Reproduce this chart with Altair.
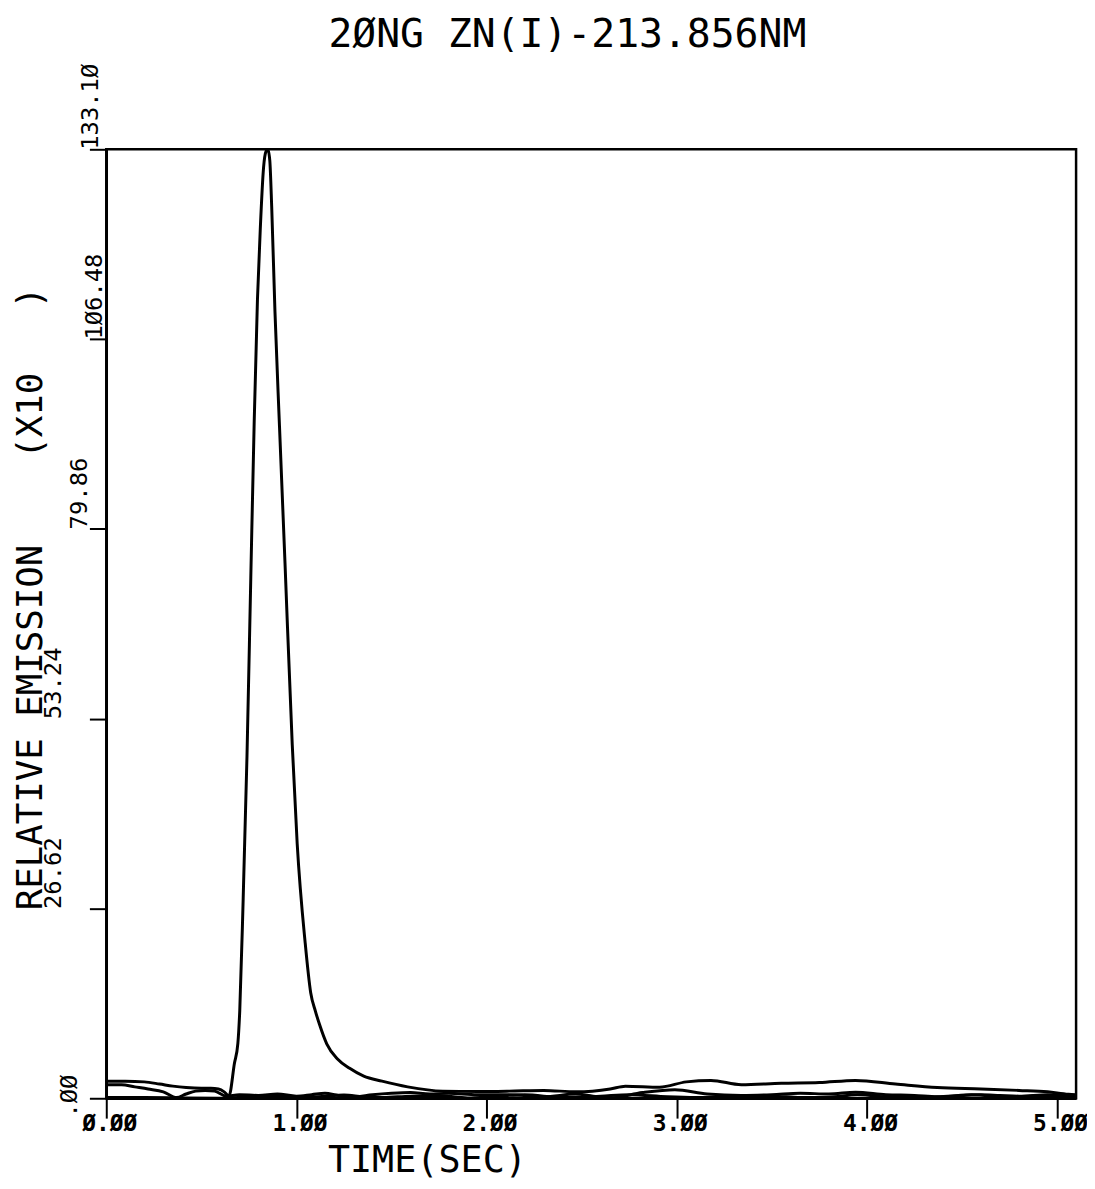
import altair as alt
import pandas as pd

NB = "\u00a0"
TITLE = "2ØNG ZN(I)-213.856NM"
X_TITLE = "TIME(SEC)"
Y_TITLE = "RELATIVE EMISSION" + NB * 4 + "(X10" + NB * 3 + ")"

x_ticks = [0, 1, 2, 3, 4, 5]
y_ticks = [0.0, 26.62, 53.24, 79.86, 106.48, 133.10]

sample_t = [0.00, 0.10, 0.20, 0.28, 0.35, 0.42, 0.50, 0.55, 0.59, 0.62,
            0.645, 0.674, 0.692, 0.702, 0.72, 0.74, 0.76, 0.778, 0.795, 0.81,
            0.827, 0.84, 0.85, 0.86, 0.87, 0.887, 0.911, 0.94, 0.978, 1.004,
            1.046, 1.075, 1.10, 1.122, 1.16, 1.216, 1.28, 1.354, 1.45, 1.585,
            1.77, 1.95, 2.12, 2.30, 2.47, 2.65, 2.73, 2.91, 3.05, 3.18,
            3.34, 3.55, 3.75, 3.94, 4.15, 4.37, 4.60, 4.80, 4.95, 5.06, 5.10]
sample_v = [2.4, 2.4, 2.3, 2.0, 1.7, 1.5, 1.4, 1.4, 1.3, 0.9,
            0.3, 4.9, 7.7, 12.3, 28, 48, 73, 95, 112, 122,
            130.5, 132.8, 133.1, 131.5, 125, 110.4, 94.2, 75, 49.6, 35.7,
            21.8, 14.8, 12.2, 10.3, 7.6, 5.5, 4.2, 3.1, 2.4, 1.6,
            1.0, 0.95, 1.0, 1.1, 0.9, 1.3, 1.7, 1.55, 2.3, 2.5,
            1.9, 2.1, 2.2, 2.5, 2.0, 1.5, 1.3, 1.1, 0.9, 0.55, 0.5]

blank1_t = [0.00, 0.08, 0.15, 0.22, 0.30, 0.37, 0.42, 0.47, 0.52, 0.57,
            0.63, 0.70, 0.80, 0.90, 1.00, 1.08, 1.15, 1.22, 1.30, 1.40,
            1.50, 1.60, 1.70, 1.80, 1.95, 2.12, 2.30, 2.47, 2.56, 2.65,
            2.82, 2.99, 3.16, 3.34, 3.50, 3.65, 3.80, 3.94, 4.10, 4.25,
            4.37, 4.50, 4.60, 4.70, 4.80, 4.95, 5.10]
blank1_v = [1.9, 1.9, 1.6, 1.3, 0.9, 0.1, 0.6, 1.0, 1.1, 1.0,
            0.3, 0.5, 0.4, 0.6, 0.3, 0.5, 0.7, 0.4, 0.2, 0.5,
            0.7, 0.8, 0.6, 0.7, 0.5, 0.5, 0.2, 0.6, 0.3, 0.05,
            0.8, 1.2, 0.6, 0.4, 0.5, 0.7, 0.6, 0.85, 0.5, 0.4,
            0.2, 0.4, 0.5, 0.4, 0.3, 0.5, 0.2]

blank2_t = [0.00, 0.20, 0.40, 0.60, 0.75, 0.90, 1.05, 1.15, 1.25, 1.35,
            1.45, 1.60, 1.75, 1.90, 2.05, 2.20, 2.40, 2.60, 2.75, 2.95,
            3.10, 3.30, 3.50, 3.65, 3.80, 3.95, 4.15, 4.40, 4.55, 4.75,
            4.95, 5.10]
blank2_v = [0.1, 0.1, 0.05, 0.0, 0.2, 0.35, 0.1, 0.3, 0.45, 0.2,
            0.1, 0.3, 0.35, 0.05, 0.3, 0.5, 0.1, 0.3, 0.5, 0.2,
            0.1, 0.25, 0.3, 0.1, 0.15, 0.5, 0.1, 0.2, 0.5, 0.1,
            0.4, 0.1]

rows = []
for name, ts, vs in [("sample", sample_t, sample_v),
                     ("blank1", blank1_t, blank1_v),
                     ("blank2", blank2_t, blank2_v)]:
    for i, (t, v) in enumerate(zip(ts, vs)):
        rows.append({"series": name, "order": i, "t": t, "v": v})
df = pd.DataFrame(rows)

MONO = "DejaVu Sans Mono, Liberation Mono, monospace"

x_label_expr = "replace(format(datum.value, '.2f'), regexp('0', 'g'), 'Ø')"
y_label_expr = ("datum.value < 1 ? '.ØØ' : "
                "replace(format(datum.value, '.2f'), regexp('0', 'g'), 'Ø')")

y_pad = {"condition": [
    {"test": "datum.value > 120", "value": -13},
    {"test": "datum.value > 100", "value": -17},
    {"test": "datum.value > 70", "value": -2},
    {"test": "datum.value > 40", "value": 24},
    {"test": "datum.value > 10", "value": 24},
], "value": 8}
y_off = {"condition": {"test": "datum.value < 1", "value": 19}, "value": 0}

x_axis = alt.Axis(
    values=x_ticks, labelExpr=x_label_expr, title=X_TITLE, grid=False,
    tickSize=20, tickWidth=2, tickColor="black",
    domainColor="black", domainWidth=2.5,
    labelFont=MONO, labelFontSize=23, labelFontWeight="bold", labelColor="black",
    labelPadding=-6, labelOffset=3, labelBaseline="top", labelAlign="center",
    labelFlush=False, labelOverlap=False,
    titleFont=MONO, titleFontSize=37, titleFontWeight="normal", titleColor="black",
    titleX=323, titleY=63, titleBaseline="middle", titleAlign="center",
)
y_axis = alt.Axis(
    values=y_ticks, labelExpr=y_label_expr, title=Y_TITLE, grid=False,
    tickSize=17, tickWidth=2, tickColor="black",
    domainColor="black", domainWidth=2.5,
    labelFont=MONO, labelFontSize=24, labelColor="black",
    labelAngle=270, labelAlign="left", labelBaseline="bottom",
    labelPadding=y_pad, labelOffset=y_off,
    labelFlush=False, labelOverlap=False,
    titleFont=MONO, titleFontSize=36, titleFontWeight="normal", titleColor="black",
    titleAngle=270, titleX=-76, titleY=452, titleBaseline="middle", titleAlign="center",
)

chart = alt.Chart(df).mark_line(
    color="black", strokeWidth=3, interpolate="monotone", clip=True
).encode(
    x=alt.X("t:Q", scale=alt.Scale(domain=[0, 5.1], nice=False, zero=False), axis=x_axis),
    y=alt.Y("v:Q", scale=alt.Scale(domain=[0, 133.1], nice=False), axis=y_axis),
    detail="series:N",
    order="order:Q",
).properties(
    width=977, height=956,
    title=alt.TitleParams(TITLE, font=MONO, fontSize=40, fontWeight="normal",
                          color="black", dx=-24, dy=46, offset=14, frame="group",
                          baseline="bottom"),
    autosize=alt.AutoSizeParams(type="none"),
    padding={"left": 99, "top": 138, "right": 11, "bottom": 79},
    background="white",
).configure_view(stroke="black", strokeWidth=2.5)

chart.save("out.html", embed_options={"renderer": "svg", "actions": False})
